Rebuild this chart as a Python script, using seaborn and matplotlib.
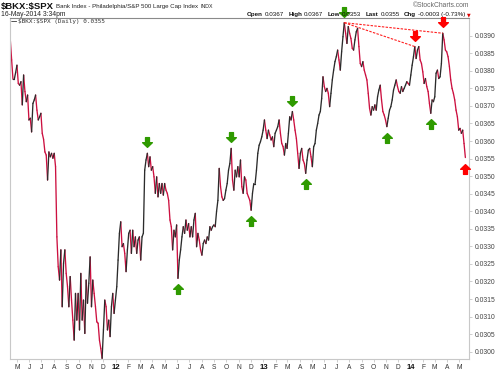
import matplotlib
matplotlib.use("Agg")
import matplotlib.pyplot as plt
import matplotlib.transforms as mtransforms
from matplotlib.path import Path
import seaborn as sns
import pandas as pd
import numpy as np

# $BKX:$SPX daily ratio (roughly every 3 days)
ratio = [
    0.03888, 0.03831, 0.03776, 0.03776, 0.03795, 0.03816, 0.03764, 0.03759, 0.03769, 0.03703,
    0.03788, 0.03741, 0.03712, 0.03731, 0.03660, 0.03665, 0.03626, 0.03707, 0.03717, 0.03731,
    0.03688, 0.03660, 0.03669, 0.03679, 0.03622, 0.03605, 0.03569, 0.03560, 0.03489, 0.03569,
    0.03555, 0.03565, 0.03551, 0.03565, 0.03527, 0.03327, 0.03242, 0.03204, 0.03290, 0.03128,
    0.03251, 0.03290, 0.03223, 0.03185, 0.03128, 0.03214, 0.03147, 0.03090, 0.03033, 0.03166,
    0.03090, 0.03166, 0.03062, 0.03223, 0.03090, 0.03147, 0.03052, 0.03204, 0.03138, 0.03195,
    0.03270, 0.03128, 0.03204, 0.03166, 0.03128, 0.03085, 0.03081, 0.03033, 0.03009, 0.02981,
    0.03062, 0.03147, 0.03128, 0.03062, 0.03090, 0.03043, 0.03128, 0.03166, 0.03109, 0.03147,
    0.03185, 0.03261, 0.03337, 0.03370, 0.03299, 0.03308, 0.03280, 0.03228, 0.03290, 0.03337,
    0.03346, 0.03280, 0.03346, 0.03299, 0.03327, 0.03280, 0.03318, 0.03327, 0.03261, 0.03327,
    0.03337, 0.03517, 0.03546, 0.03565, 0.03527, 0.03555, 0.03517, 0.03527, 0.03498, 0.03451,
    0.03498, 0.03441, 0.03479, 0.03451, 0.03479, 0.03446, 0.03479, 0.03460, 0.03451, 0.03431,
    0.03375, 0.03356, 0.03290, 0.03346, 0.03327, 0.03361, 0.03209, 0.03261, 0.03290, 0.03327,
    0.03356, 0.03337, 0.03375, 0.03346, 0.03365, 0.03327, 0.03356, 0.03327, 0.03375, 0.03394,
    0.03299, 0.03337, 0.03318, 0.03290, 0.03275, 0.03308, 0.03318, 0.03308, 0.03327, 0.03318,
    0.03356, 0.03346, 0.03356, 0.03361, 0.03356, 0.03399, 0.03431, 0.03522, 0.03470, 0.03441,
    0.03431, 0.03436, 0.03460, 0.03479, 0.03517, 0.03536, 0.03579, 0.03489, 0.03460, 0.03517,
    0.03498, 0.03527, 0.03498, 0.03546, 0.03470, 0.03451, 0.03498, 0.03489, 0.03451, 0.03441,
    0.03431, 0.03403, 0.03451, 0.03479, 0.03479, 0.03517, 0.03565, 0.03588, 0.03598, 0.03612,
    0.03631, 0.03660, 0.03631, 0.03607, 0.03631, 0.03617, 0.03603, 0.03612, 0.03584, 0.03622,
    0.03631, 0.03641, 0.03660, 0.03622, 0.03593, 0.03584, 0.03560, 0.03593, 0.03579, 0.03622,
    0.03669, 0.03660, 0.03684, 0.03660, 0.03631, 0.03607, 0.03565, 0.03522, 0.03565, 0.03579,
    0.03546, 0.03536, 0.03508, 0.03546, 0.03574, 0.03579, 0.03555, 0.03527, 0.03584, 0.03593,
    0.03631, 0.03650, 0.03674, 0.03684, 0.03721, 0.03783, 0.03755, 0.03741, 0.03750, 0.03736,
    0.03698, 0.03736, 0.03774, 0.03802, 0.03826, 0.03840, 0.03859, 0.03831, 0.03802, 0.03854,
    0.03897, 0.03937, 0.03907, 0.03878, 0.03926, 0.03907, 0.03892, 0.03864, 0.03859, 0.03888,
    0.03911, 0.03921, 0.03869, 0.03821, 0.03812, 0.03826, 0.03802, 0.03788, 0.03774, 0.03736,
    0.03693, 0.03674, 0.03698, 0.03688, 0.03703, 0.03688, 0.03726, 0.03745, 0.03759, 0.03717,
    0.03684, 0.03674, 0.03660, 0.03641, 0.03665, 0.03688, 0.03698, 0.03717, 0.03745, 0.03759,
    0.03774, 0.03755, 0.03741, 0.03736, 0.03755, 0.03741, 0.03750, 0.03759, 0.03769, 0.03764,
    0.03759, 0.03788, 0.03816, 0.03840, 0.03869, 0.03835, 0.03859, 0.03869, 0.03831, 0.03821,
    0.03797, 0.03764, 0.03778, 0.03755, 0.03741, 0.03707, 0.03679, 0.03717, 0.03712, 0.03726,
    0.03793, 0.03802, 0.03778, 0.03783, 0.03821, 0.03907, 0.03888, 0.03859, 0.03854, 0.03840,
    0.03812, 0.03774, 0.03750, 0.03736, 0.03717, 0.03688, 0.03669, 0.03631, 0.03636, 0.03622,
    0.03631, 0.03593, 0.03553,
]
start_date = "2011-04-15"
end_date = "2014-05-16"

# signal arrows (approximate dates of the swing points)
green_tops = ["2012-03-19", "2012-10-13", "2013-03-13", "2013-07-20"]
green_bottoms = ["2012-06-03", "2012-12-01", "2013-04-15", "2013-11-02", "2014-02-19"]
red_tops = ["2014-01-10", "2014-03-21"]
red_bottoms = ["2014-05-16"]
trend_start = "2013-07-20"

y_ticks = [0.0300, 0.0305, 0.0310, 0.0315, 0.0320, 0.0325, 0.0330, 0.0335, 0.0340,
           0.0345, 0.0350, 0.0355, 0.0360, 0.0365, 0.0370, 0.0375, 0.0380, 0.0385, 0.0390]

quote = [("Open", "0.0367"), ("High", "0.0367"), ("Low", "0.0353"),
         ("Last", "0.0355"), ("Chg", "-0.0003 (-0.73%)")]

dates = pd.date_range(start_date, end_date, periods=len(ratio))
series = pd.Series(ratio, index=dates)

# split into up / down segments so rising days are dark and falling days red
rows = []
for i in range(len(ratio) - 1):
    d = "up" if ratio[i + 1] >= ratio[i] else "down"
    rows.append((i, dates[i], ratio[i], d))
    rows.append((i, dates[i + 1], ratio[i + 1], d))
segs = pd.DataFrame(rows, columns=["seg", "date", "ratio", "dir"])

sns.set_theme(style="white")
plt.rcParams["font.family"] = ["Liberation Sans", "DejaVu Sans"]

fig = plt.figure(figsize=(5.0, 3.72), dpi=100)
ax = fig.add_axes([9.5 / 500, 13 / 372, 459.5 / 500, 341 / 372])

sns.lineplot(data=segs, x="date", y="ratio", hue="dir", units="seg", estimator=None,
             palette={"up": "#2b2b2b", "down": "#cc1040"}, legend=False, lw=0.95, ax=ax)

ax.set_xlim(pd.Timestamp("2011-04-13"), pd.Timestamp("2014-05-25"))
ax.set_ylim(0.029792, 0.039504)
ax.set_xlabel("")
ax.set_ylabel("")


def extreme(dstr, kind):
    i = series.index.get_indexer([pd.Timestamp(dstr)], method="nearest")[0]
    lo, hi = max(i - 3, 0), min(i + 4, len(ratio))
    win = series.iloc[lo:hi]
    j = lo + (int(np.argmax(win.values)) if kind == "max" else int(np.argmin(win.values)))
    return series.index[j], series.iloc[j]


up_arrow = Path([(-0.2, -0.5), (0.2, -0.5), (0.2, 0.02), (0.5, 0.02), (0, 0.5),
                 (-0.5, 0.02), (-0.2, 0.02), (-0.2, -0.5)], closed=True)
down_arrow = Path([(x, -y) for x, y in up_arrow.vertices], closed=True)

above = mtransforms.offset_copy(ax.transData, fig=fig, y=11, units="dots")
below = mtransforms.offset_copy(ax.transData, fig=fig, y=-11, units="dots")

for lst, kind, mk, col, tr in [
    (green_tops, "max", down_arrow, "#2f9a00", above),
    (green_bottoms, "min", up_arrow, "#2f9a00", below),
    (red_tops, "max", down_arrow, "#ff0000", above),
    (red_bottoms, "min", up_arrow, "#ff0000", below),
]:
    pts = [extreme(d, kind) for d in lst]
    ax.plot([p[0] for p in pts], [p[1] for p in pts], linestyle="none", marker=mk,
            ms=7, color=col, mec=col, transform=tr, clip_on=False, zorder=5)

# dashed trend lines joining the lower highs
t0, v0 = extreme(trend_start, "max")
for d in red_tops:
    t1, v1 = extreme(d, "max")
    ax.plot([t0, t1], [v0, v1], color="#ff2020", lw=0.8, ls=(0, (2.2, 1.2)), zorder=4)

# axes styling
for side in ["left", "right", "top", "bottom"]:
    ax.spines[side].set_color("#c8c8c8")
    ax.spines[side].set_linewidth(0.8)
ax.spines["top"].set_color("#8a8a8a")

ax.yaxis.tick_right()
ax.set_yticks(y_ticks)
ax.set_yticklabels([f"{t:.4f}" for t in y_ticks])
ax.tick_params(axis="y", right=True, length=2, width=0.5, color="#bbbbbb",
               labelsize=4.9, labelcolor="#444444", pad=2)

months = pd.date_range("2011-05-01", "2014-05-01", freq="MS")
ax.set_xticks(months)
ax.set_xticklabels([m.strftime("%y") if m.month == 1 else m.strftime("%b")[0] for m in months])
ax.tick_params(axis="x", bottom=True, length=2, width=0.5, color="#bbbbbb",
               labelsize=4.8, labelcolor="#333333", pad=1.5)
for lab, m in zip(ax.get_xticklabels(), months):
    if m.month == 1:
        lab.set_fontweight("bold")
        lab.set_fontsize(5.6)
        lab.set_color("#111111")

# header
renderer = fig.canvas.get_renderer()


def fy(y):
    return 1 - y / 372


def put(x, y, s, **kw):
    t = fig.text(x / 500, fy(y), s, va="center", parse_math=False, **kw)
    return x + t.get_window_extent(renderer).width


x = put(1, 6, "$BKX:$SPX", size=6.8, weight="bold", color="#111111")
x = put(x + 2, 6.3, "Bank Index - Philadelphia/S&P 500 Large Cap Index", size=4.4,
        color="#222222")
put(x + 2, 6.3, "INDX", size=3.8, color="#222222")
put(1, 14.5, "16-May-2014 3:34pm", size=4.9, color="#222222")
fig.text(469 / 500, fy(5.5), "\u00a9StockCharts.com", size=4.9, ha="right", va="center",
         color="#666666")

x = 247
for lab, val in quote:
    x = put(x, 14.5, lab, size=4.5, weight="bold", color="#111111")
    x = put(x + 1.8, 14.5, val, size=4.5, color="#111111") + 4.5
fig.text(466.5 / 500, fy(14.8), "\u25bc", size=3.4, va="center", color="#dd0000",
         family="DejaVu Sans")

# in-chart legend
fig.text(11 / 500, fy(21.5), "\u2014", size=4.5, va="center", color="#222222",
         family="DejaVu Sans", weight="bold")
fig.text(17.5 / 500, fy(21.5), "$BKX:$SPX (Daily) 0.0355", size=4.3, va="center",
         color="#333333", family="DejaVu Sans Mono", parse_math=False)

fig.savefig("out.png", dpi=100)
